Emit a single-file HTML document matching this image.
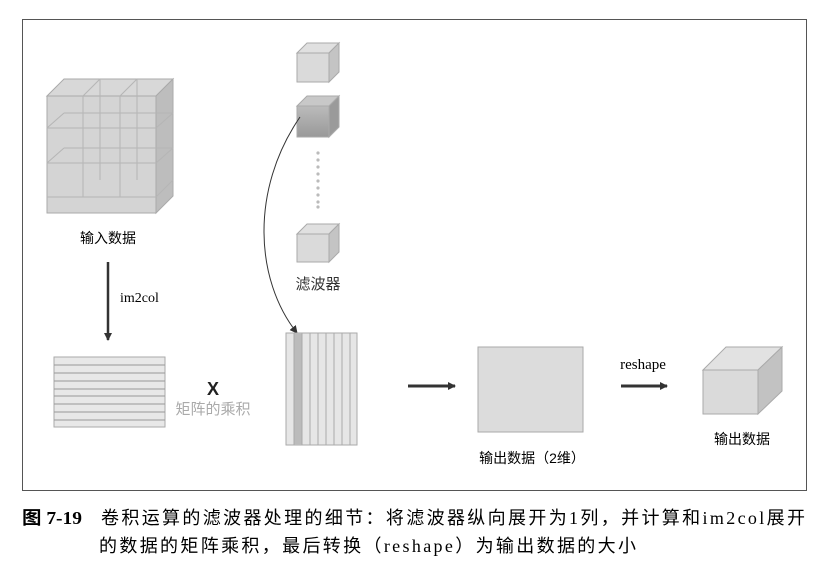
<!DOCTYPE html>
<html><head><meta charset="utf-8"><style>
body{margin:0;background:#fff;width:837px;height:574px;overflow:hidden}
text{font-family:"Liberation Serif","Noto Serif CJK SC",serif}
.cj{font-family:"Liberation Sans","Noto Sans CJK SC",sans-serif}
.cap{font-family:"Liberation Serif","Noto Sans CJK SC",sans-serif}
</style></head><body>
<svg width="837" height="574" xmlns="http://www.w3.org/2000/svg">
<defs>
<marker id="a" markerWidth="8" markerHeight="8" refX="7" refY="4" orient="auto" markerUnits="userSpaceOnUse"><path d="M0,0 L8,4 L0,8 z" fill="#333"/></marker>
<linearGradient id="g2" x1="0" y1="0" x2="0" y2="1"><stop offset="0" stop-color="#bbb"/><stop offset="1" stop-color="#999"/></linearGradient>
</defs>
<rect x="22.5" y="19.5" width="784" height="471" fill="none" stroke="#555" stroke-width="1"/>
<g stroke="#aaa" stroke-width="1">
<polygon points="47,96 64,79 173,79 156,96" fill="#d8d8d8"/>
<polygon points="156,96 173,79 173,196 156,213" fill="#bdbdbd"/>
<rect x="47" y="96" width="109" height="117" fill="#d4d4d4"/>
</g>
<g stroke="#b5b5b5" fill="none" stroke-width="1">
<line x1="47" y1="128" x2="156" y2="128"/><line x1="47" y1="163" x2="156" y2="163"/><line x1="47" y1="197" x2="156" y2="197"/>
<line x1="83" y1="96" x2="83" y2="197"/><line x1="120" y1="96" x2="120" y2="197"/>
<line x1="47" y1="128" x2="64" y2="113"/><line x1="47" y1="163" x2="64" y2="148"/>
<line x1="64" y1="113" x2="173" y2="113"/><line x1="64" y1="148" x2="173" y2="148"/>
<line x1="83" y1="96" x2="100" y2="79"/><line x1="120" y1="96" x2="137" y2="79"/>
<line x1="100" y1="79" x2="100" y2="180"/><line x1="137" y1="79" x2="137" y2="180"/>
<line x1="156" y1="128" x2="173" y2="113"/><line x1="156" y1="163" x2="173" y2="148"/><line x1="156" y1="197" x2="173" y2="180"/>
</g>
<text x="108" y="243" font-size="14" text-anchor="middle" class="cj">输入数据</text>
<line x1="108" y1="262" x2="108" y2="340" stroke="#333" stroke-width="2.5" marker-end="url(#a)"/>
<text x="120" y="302" font-size="14">im2col</text>
<g stroke="#aaa">
<polygon points="297,53 307,43 339,43 329,53" fill="#e0e0e0"/><polygon points="329,53 339,43 339,72 329,82" fill="#c4c4c4"/><rect x="297" y="53" width="32" height="29" fill="#dadada"/>
<polygon points="297,106 307,96 339,96 329,106" fill="#c8c8c8"/><polygon points="329,106 339,96 339,127 329,137" fill="#9a9a9a"/><rect x="297" y="106" width="32" height="31" fill="url(#g2)"/>
<polygon points="297,234 307,224 339,224 329,234" fill="#e0e0e0"/><polygon points="329,234 339,224 339,252 329,262" fill="#c4c4c4"/><rect x="297" y="234" width="32" height="28" fill="#dadada"/>
</g>
<g fill="#bbb"><circle cx="318" cy="153" r="1.6"/><circle cx="318" cy="160" r="1.6"/><circle cx="318" cy="167" r="1.6"/><circle cx="318" cy="174" r="1.6"/><circle cx="318" cy="181" r="1.6"/><circle cx="318" cy="188" r="1.6"/><circle cx="318" cy="195" r="1.6"/><circle cx="318" cy="202" r="1.6"/><circle cx="318" cy="207" r="1.6"/></g>
<text x="318" y="289" font-size="15" text-anchor="middle" class="cj" fill="#333">滤波器</text>
<path d="M300,117 C250,190 255,280 297,333" fill="none" stroke="#333" stroke-width="1" marker-end="url(#a)"/>
<rect x="286" y="333" width="71" height="112" fill="#e6e6e6" stroke="#aaa"/>
<rect x="294" y="333" width="8" height="112" fill="#bbb"/>
<g stroke="#aaa"><line x1="294" y1="333" x2="294" y2="445"/><line x1="302" y1="333" x2="302" y2="445"/><line x1="310" y1="333" x2="310" y2="445"/><line x1="318" y1="333" x2="318" y2="445"/><line x1="326" y1="333" x2="326" y2="445"/><line x1="334" y1="333" x2="334" y2="445"/><line x1="342" y1="333" x2="342" y2="445"/><line x1="350" y1="333" x2="350" y2="445"/></g>
<rect x="54" y="357" width="111" height="70" fill="#e8e8e8" stroke="#aaa"/>
<g stroke="#999"><line x1="54" y1="365" x2="165" y2="365"/><line x1="54" y1="373" x2="165" y2="373"/><line x1="54" y1="381" x2="165" y2="381"/><line x1="54" y1="389" x2="165" y2="389"/><line x1="54" y1="396" x2="165" y2="396"/><line x1="54" y1="404" x2="165" y2="404"/><line x1="54" y1="412" x2="165" y2="412"/><line x1="54" y1="420" x2="165" y2="420"/></g>
<text x="213" y="395" font-size="18" font-weight="bold" text-anchor="middle" style="font-family:'Liberation Sans',sans-serif" fill="#222">X</text>
<text x="213" y="414" font-size="15" text-anchor="middle" class="cj" fill="#aaa">矩阵的乘积</text>
<line x1="408" y1="386" x2="455" y2="386" stroke="#333" stroke-width="3" marker-end="url(#a)"/>
<rect x="478" y="347" width="105" height="85" fill="#dcdcdc" stroke="#aaa"/>
<text x="532" y="463" font-size="14" text-anchor="middle" class="cj">输出数据（2维）</text>
<text x="643" y="369" font-size="15" text-anchor="middle">reshape</text>
<line x1="621" y1="386" x2="667" y2="386" stroke="#333" stroke-width="3" marker-end="url(#a)"/>
<g stroke="#aaa">
<polygon points="703,370 726,347 782,347 758,370" fill="#e2e2e2"/>
<polygon points="758,370 782,347 782,391 758,414" fill="#c2c2c2"/>
<rect x="703" y="370" width="55" height="44" fill="#dadada"/>
</g>
<text x="742" y="444" font-size="14" text-anchor="middle" class="cj">输出数据</text>
<text x="22" y="524" font-size="18" class="cap" font-weight="bold" textLength="60" lengthAdjust="spacingAndGlyphs">图 7-19</text>
<text x="101" y="524" font-size="18" class="cap" textLength="704" lengthAdjust="spacing">卷积运算的滤波器处理的细节：将滤波器纵向展开为1列，并计算和im2col展开</text>
<text x="99" y="552" font-size="18" class="cap" textLength="537" lengthAdjust="spacing">的数据的矩阵乘积，最后转换（reshape）为输出数据的大小</text>
</svg>
</body></html>
